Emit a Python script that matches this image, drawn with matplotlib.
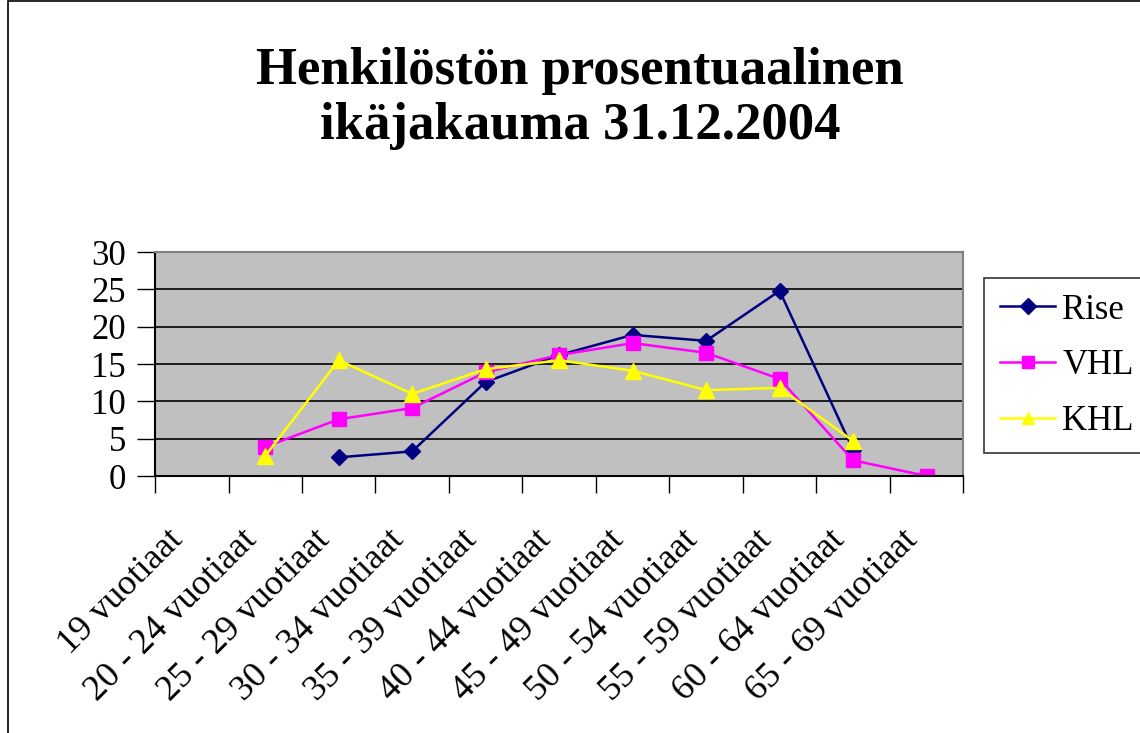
import numpy as np
import matplotlib.pyplot as plt
from matplotlib.patches import Rectangle
from matplotlib.transforms import ScaledTranslation

categories = ["19 vuotiaat", "20 - 24 vuotiaat", "25 - 29 vuotiaat", "30 - 34 vuotiaat",
              "35 - 39 vuotiaat", "40 - 44 vuotiaat", "45 - 49 vuotiaat", "50 - 54 vuotiaat",
              "55 - 59 vuotiaat", "60 - 64 vuotiaat", "65 - 69 vuotiaat"]
rise = [np.nan, np.nan, 2.5, 3.3, 12.6, 16.2, 18.9, 18.1, 24.8, 3.5, np.nan]
vhl = [np.nan, 3.9, 7.6, 9.1, 13.9, 16.2, 17.8, 16.5, 13.0, 2.1, 0.0]
khl = [np.nan, 2.7, 15.5, 11.0, 14.3, 15.5, 14.1, 11.5, 11.8, 4.7, np.nan]

plt.rcParams['font.family'] = ['Liberation Serif', 'DejaVu Serif']

fig = plt.figure(figsize=(11.4, 7.33), dpi=100)
fig.patches.append(Rectangle((0.007, -0.01), 1.0, 1.008, transform=fig.transFigure,
                             fill=False, edgecolor='black', linewidth=1.2))

ax = fig.add_axes([0.136, 0.3506, 0.709, 0.3056])
ax.set_facecolor('#C0C0C0')

x = np.arange(len(categories))
ax.plot(x, rise, color='#000080', marker='D', markersize=8, linewidth=1.8, label='Rise')
ax.plot(x, vhl, color='#FF00FF', marker='s', markersize=10, linewidth=1.8, label='VHL')
ax.plot(x, khl, color='#FFFF00', marker='^', markersize=11, linewidth=1.8, label='KHL')

ax.set_xlim(-0.5, len(categories) - 0.5)
ax.set_ylim(0, 30)
ax.set_yticks(range(0, 31, 5))
for v in range(5, 30, 5):
    ax.axhline(v, color='black', linewidth=1.2, zorder=0.5)

ax.set_xticks(x)
ax.set_xticklabels(categories, rotation=45, ha='right', va='top', rotation_mode='anchor',
                   fontsize=26)
ax.set_xticks(np.arange(-0.5, len(categories), 1), minor=True)
ax.tick_params(axis='x', which='major', length=0, pad=34)
ax.tick_params(axis='x', which='minor', length=12, width=1, color='black')
ax.tick_params(axis='y', length=13, width=1, labelsize=25, pad=8)
shift = ScaledTranslation(-25 / 100, 0, fig.dpi_scale_trans)
for lab in ax.get_xticklabels():
    lab.set_transform(lab.get_transform() + shift)

for s in ['top', 'right']:
    ax.spines[s].set_color('#808080')
    ax.spines[s].set_linewidth(1.5)
for s in ['left', 'bottom']:
    ax.spines[s].set_color('black')
    ax.spines[s].set_linewidth(1.5)

leg = ax.legend(loc='upper left', bbox_to_anchor=(1.026, 0.884), fontsize=25, frameon=True,
                fancybox=False, edgecolor='black', handlelength=1.6, borderpad=0.45,
                labelspacing=0.65, handletextpad=0.2, borderaxespad=0)
leg.get_frame().set_linewidth(1.2)
for h in leg.legend_handles:
    h.set_markersize(8)

fig.text(0.509, 0.866, "Henkilöstön prosentuaalinen\nikäjakauma 31.12.2004", ha='center', va='center',
         fontsize=38, fontweight='bold', linespacing=1.2)

fig.savefig('out.png', dpi=100)
